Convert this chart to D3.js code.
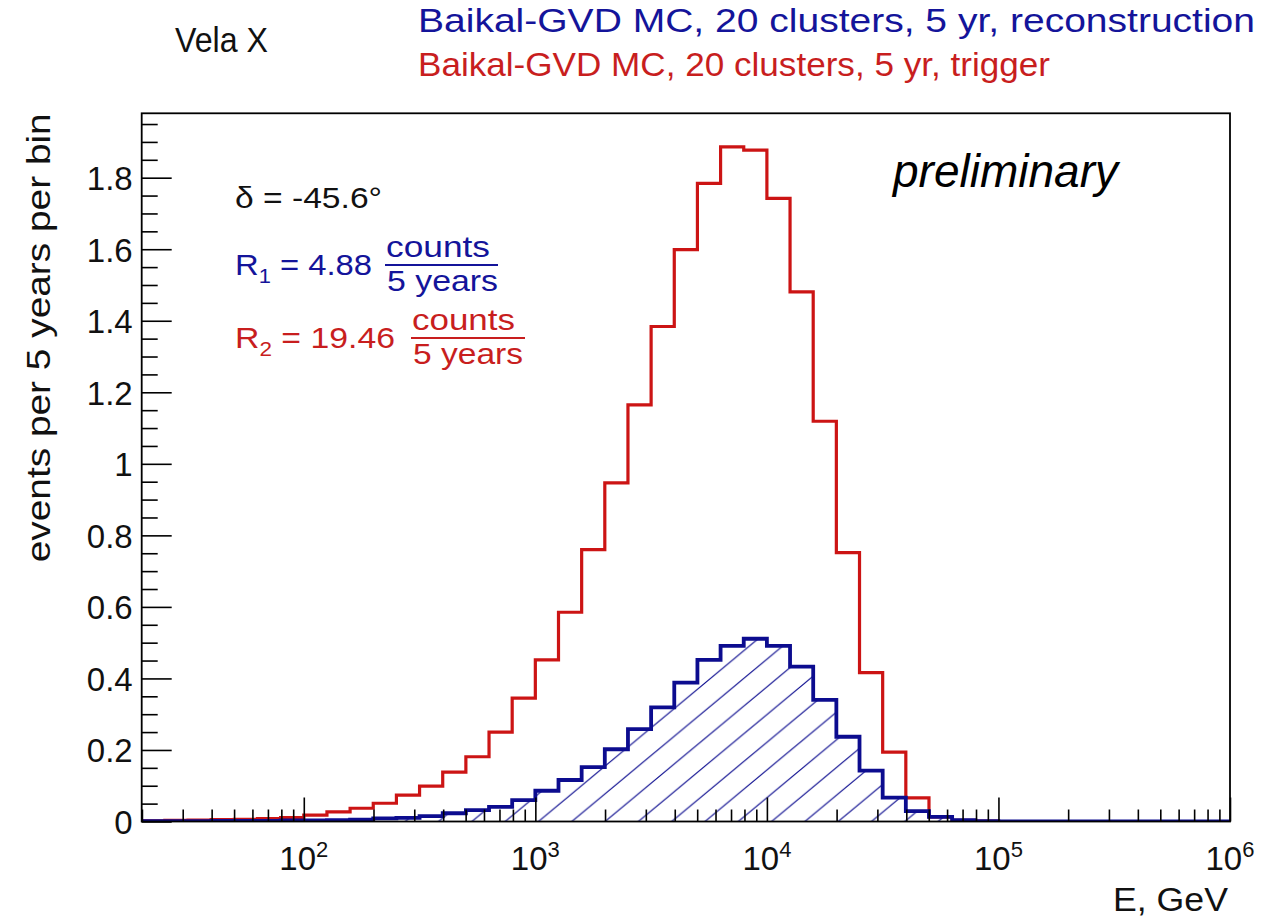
<!DOCTYPE html>
<html><head><meta charset="utf-8">
<script src="https://cdn.jsdelivr.net/npm/d3@7"></script>
<style>
html,body{margin:0;padding:0;background:#fff;}
svg{display:block;}
text{font-family:"Liberation Sans", Arial, Helvetica, sans-serif;}
</style></head><body>
<svg id="chart" width="1271" height="920"></svg>
<script>
// ---- data (log10 of bin edges in GeV, 0.1-decade bins) ----
const binLowEdgesLog = [1.3,1.4,1.5,1.6,1.7,1.8,1.9,2.0,2.1,2.2,2.3,2.4,2.5,2.6,2.7,2.8,2.9,3.0,3.1,3.2,3.3,3.4,3.5,3.6,3.7,3.8,3.9,4.0,4.1,4.2,4.3,4.4,4.5,4.6,4.7,4.8,4.9,5.0,5.1,5.2,5.3,5.4,5.5,5.6,5.7,5.8,5.9];
const lastUpperEdgeLog = 6.0;
// trigger (red)
const triggerEvents = [0.002,0.003,0.004,0.005,0.006,0.008,0.011,0.018,0.027,0.037,0.051,0.074,0.099,0.138,0.181,0.250,0.345,0.452,0.585,0.760,0.947,1.165,1.384,1.599,1.784,1.886,1.877,1.742,1.481,1.119,0.752,0.416,0.194,0.066,0.013,0.003,0.001,0,0,0,0,0,0,0,0,0,0];
// reconstruction (blue, hatched)
const recoEvents = [0.001,0.001,0.001,0.002,0.002,0.002,0.003,0.003,0.004,0.005,0.009,0.010,0.015,0.023,0.032,0.041,0.060,0.086,0.116,0.152,0.202,0.258,0.319,0.388,0.452,0.491,0.511,0.491,0.433,0.340,0.237,0.142,0.067,0.029,0.013,0.004,0.001,0,0,0,0,0,0,0,0,0,0];

const yTickValues = [0,0.2,0.4,0.6,0.8,1.0,1.2,1.4,1.6,1.8];
const yTickLabels = ["0","0.2","0.4","0.6","0.8","1","1.2","1.4","1.6","1.8"];
const xDecadeExponents = [2,3,4,5,6];
const yMax = 1.98;

const sourceName = "Vela X";
const recoTitle = "Baikal-GVD MC, 20 clusters, 5 yr, reconstruction";
const trigTitle = "Baikal-GVD MC, 20 clusters, 5 yr, trigger";
const declText = "δ = -45.6°";
const r1Value = "4.88", r2Value = "19.46";
const yTitle = "events per 5 years per bin";
const xTitle = "E, GeV";
const prelim = "preliminary";

// ---- layout ----
const W = 1271, H = 920;
const frame = {left: 141.7, right: 1230, top: 113.3, bottom: 821.5};
const RED = "#cc1414", BLUE = "#0c0c8f", RED_T = "#c81e1e", BLUE_T = "#14149a";

const svg = d3.select("#chart");
const x = d3.scaleLog().domain([Math.pow(10, binLowEdgesLog[0]), Math.pow(10, lastUpperEdgeLog)]).range([frame.left, frame.right]);
const y = d3.scaleLinear().domain([0, yMax]).range([frame.bottom, frame.top]);

function fit(sel, width) {
  sel.attr("textLength", width).attr("lengthAdjust", "spacingAndGlyphs");
  return sel;
}

// ---- hatch pattern ----
const defs = svg.append("defs");
const hw = 33.3, hh = 27.7;
const pat = defs.append("pattern").attr("id", "hatch")
  .attr("patternUnits", "userSpaceOnUse")
  .attr("width", hw).attr("height", hh)
  .attr("x", x(1e4) + 4.7).attr("y", frame.bottom);
pat.append("path")
  .attr("d", `M0,${hh} L${hw},0 M${-hw},${hh} L${hw},${-hh} M0,${2*hh} L${2*hw},0`)
  .attr("stroke", BLUE).attr("stroke-width", 1.1).attr("fill", "none");
defs.append("clipPath").attr("id", "clip").append("rect")
  .attr("x", frame.left).attr("y", frame.top)
  .attr("width", frame.right - frame.left).attr("height", frame.bottom - frame.top);

// ---- histogram geometry ----
function histPoints(vals) {
  const pts = [[Math.pow(10, binLowEdgesLog[0]), 0]];
  vals.forEach((v, i) => pts.push([Math.pow(10, binLowEdgesLog[i]), v]));
  pts.push([Math.pow(10, lastUpperEdgeLog), vals[vals.length - 1]]);
  pts.push([Math.pow(10, lastUpperEdgeLog), 0]);
  return pts;
}
const line = d3.line().x(d => x(d[0])).y(d => y(d[1])).curve(d3.curveStepAfter);
const area = d3.area().x(d => x(d[0])).y0(y(0)).y1(d => y(d[1])).curve(d3.curveStepAfter);

const plot = svg.append("g").attr("clip-path", "url(#clip)");
plot.append("path").attr("d", line(histPoints(triggerEvents)))
  .attr("fill", "none").attr("stroke", RED).attr("stroke-width", 3.2).attr("stroke-linejoin", "miter");
plot.append("path").attr("d", area(histPoints(recoEvents))).attr("fill", "url(#hatch)");
plot.append("path").attr("d", line(histPoints(recoEvents)))
  .attr("fill", "none").attr("stroke", BLUE).attr("stroke-width", 3.8).attr("stroke-linejoin", "miter");

// ---- axes ----
const yAxis = d3.axisLeft(y).tickValues(yTickValues)
  .tickFormat((d, i) => yTickLabels[i]).tickSizeInner(-30).tickSizeOuter(0).tickPadding(9);
const gy = svg.append("g").attr("transform", `translate(${frame.left},0)`).call(yAxis);
gy.select(".domain").remove();
gy.selectAll(".tick line").attr("stroke", "#000").attr("stroke-width", 1.6);
gy.selectAll(".tick text").attr("font-size", 33).attr("fill", "#111").attr("dy", "0.36em")
  .attr("font-family", "'Liberation Sans', Arial, sans-serif");

const yMinorVals = d3.range(0, yMax + 1e-9, 0.05).filter(v => Math.abs(v / 0.2 - Math.round(v / 0.2)) > 1e-6);
const gym = svg.append("g").attr("transform", `translate(${frame.left},0)`)
  .call(d3.axisLeft(y).tickValues(yMinorVals).tickFormat("").tickSizeInner(-16).tickSizeOuter(0));
gym.select(".domain").remove();
gym.selectAll(".tick line").attr("stroke", "#000").attr("stroke-width", 1.6);

const xMajor = xDecadeExponents.map(e => Math.pow(10, e));
const gx = svg.append("g").attr("transform", `translate(0,${frame.bottom})`)
  .call(d3.axisBottom(x).tickValues(xMajor).tickFormat("").tickSizeInner(-24).tickSizeOuter(0));
gx.select(".domain").remove();
gx.selectAll(".tick line").attr("stroke", "#000").attr("stroke-width", 1.6);

const xMinor = [];
[1, 2, 3, 4, 5].forEach(e => { for (let m = 2; m <= 9; m++) { const v = m * Math.pow(10, e); if (v >= x.domain()[0] && v <= x.domain()[1]) xMinor.push(v); } });
const gxm = svg.append("g").attr("transform", `translate(0,${frame.bottom})`)
  .call(d3.axisBottom(x).tickValues(xMinor).tickFormat("").tickSizeInner(-12).tickSizeOuter(0));
gxm.select(".domain").remove();
gxm.selectAll(".tick line").attr("stroke", "#000").attr("stroke-width", 1.6);

// x tick labels 10^n
const xl = svg.append("g");
xDecadeExponents.forEach(e => {
  const t = xl.append("text").attr("x", x(Math.pow(10, e))).attr("y", 870)
    .attr("text-anchor", "middle").attr("font-size", 33).attr("fill", "#111");
  t.append("tspan").text("10");
  t.append("tspan").attr("font-size", 22).attr("dy", -13).text(String(e));
});

// frame
svg.append("rect").attr("x", frame.left).attr("y", frame.top)
  .attr("width", frame.right - frame.left).attr("height", frame.bottom - frame.top)
  .attr("fill", "none").attr("stroke", "#000").attr("stroke-width", 1.8);

// ---- titles ----
svg.append("text").attr("transform", `translate(50,${frame.top}) rotate(-90)`)
  .attr("text-anchor", "end").attr("font-size", 33).attr("fill", "#111").text(yTitle)
  .call(fit, 449);
svg.append("text").attr("x", 1228).attr("y", 911).attr("text-anchor", "end")
  .attr("font-size", 34).attr("fill", "#111").text(xTitle).call(fit, 115);

svg.append("text").attr("x", 175).attr("y", 52).attr("font-size", 35).attr("fill", "#111")
  .text(sourceName).call(fit, 93);
svg.append("text").attr("x", 418).attr("y", 32).attr("font-size", 33).attr("fill", BLUE_T)
  .text(recoTitle).call(fit, 837);
svg.append("text").attr("x", 418).attr("y", 76).attr("font-size", 33).attr("fill", RED_T)
  .text(trigTitle).call(fit, 632);

svg.append("text").attr("x", 893).attr("y", 187).attr("font-size", 46).attr("font-style", "italic")
  .attr("fill", "#000").attr("font-family", "'Liberation Sans', Arial, sans-serif").text(prelim);

svg.append("text").attr("x", 235).attr("y", 208).attr("font-size", 30).attr("fill", "#111")
  .text(declText).call(fit, 147);

function rateLabel(idx, value, color, baseY, fracX, widths) {
  const t = svg.append("text").attr("x", 235).attr("y", baseY).attr("font-size", 30).attr("fill", color);
  t.append("tspan").text("R");
  t.append("tspan").attr("font-size", 20).attr("dy", 8).text(String(idx));
  t.append("tspan").attr("dy", -8).text(" = " + value);
  fit(t, widths.main);
  svg.append("text").attr("x", fracX).attr("y", baseY - 18).attr("font-size", 30).attr("fill", color)
    .text("counts").call(fit, widths.num);
  svg.append("line").attr("x1", fracX - 1).attr("x2", fracX - 1 + widths.bar)
    .attr("y1", baseY - 10).attr("y2", baseY - 10).attr("stroke", color).attr("stroke-width", 2.2);
  svg.append("text").attr("x", fracX + 1).attr("y", baseY + 16).attr("font-size", 30).attr("fill", color)
    .text("5 years").call(fit, widths.den);
}
rateLabel(1, r1Value, BLUE_T, 275, 386, {main: 137, num: 104, den: 111, bar: 113});
rateLabel(2, r2Value, RED_T, 348, 412, {main: 160, num: 103, den: 110, bar: 114});
</script>
</body></html>
